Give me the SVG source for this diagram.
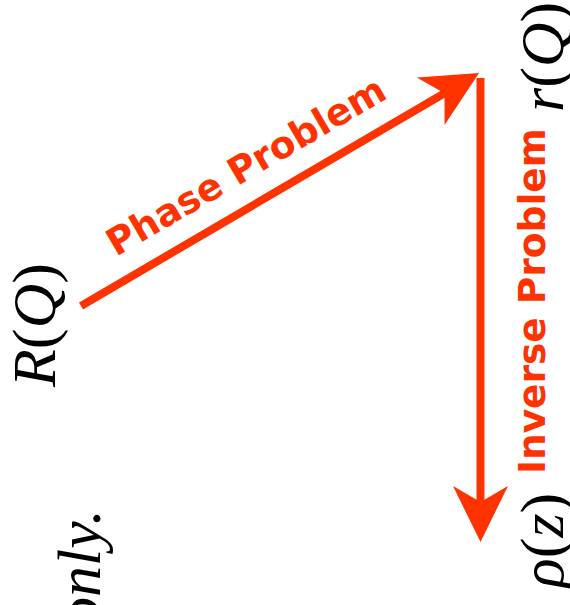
<svg xmlns="http://www.w3.org/2000/svg" width="570" height="605" viewBox="0 0 570 605">
<style>
.math{font-family:"Liberation Serif","Times New Roman",serif;font-size:62px;fill:#000}
.it{font-style:italic}
.lbl{font-family:"DejaVu Sans",Verdana,sans-serif;font-weight:bold;font-size:37.5px;fill:#ff3300}
.conn{stroke:#ff3300;stroke-width:8;fill:none}
</style>
<defs>
<marker id="ah" markerUnits="userSpaceOnUse" markerWidth="60" markerHeight="60" viewBox="0 -30 60 60" refX="16" refY="0" orient="auto" overflow="visible">
<path d="M56,0 L0,-27.5 L16,0 L0,27.5 Z" fill="#ff3300"/>
</marker>
</defs>
<rect width="570" height="605" fill="#fff"/>
<g id="connectors">
<line class="conn" x1="81" y1="306" x2="444.5" y2="93.2" marker-end="url(#ah)"/>
<line class="conn" x1="480.5" y1="78" x2="480.5" y2="502" stroke-width="7" marker-end="url(#ah)"/>
</g>
<g id="label-phase">
<text class="lbl" transform="translate(116,257) rotate(-30.3)">Phase Problem</text>
</g>
<g id="label-inverse">
<text class="lbl" transform="translate(545,474) rotate(-90)">Inverse Problem</text>
</g>
<g id="node-RQ">
<text class="math" transform="translate(55,387) rotate(-90)"><tspan class="it">R</tspan>(<tspan class="it">Q</tspan>)</text>
</g>
<g id="node-rQ">
<text class="math" transform="translate(563,112) rotate(-90)"><tspan class="it">r</tspan>(<tspan class="it">Q</tspan>)</text>
</g>
<g id="node-rho">
<text class="math" transform="translate(563,588) rotate(-90)"><tspan class="it">ρ</tspan>(<tspan class="it">z</tspan>)</text>
</g>
<g id="caption">
<text class="math it" transform="translate(100,628) rotate(-90)">only.</text>
</g>
</svg>
